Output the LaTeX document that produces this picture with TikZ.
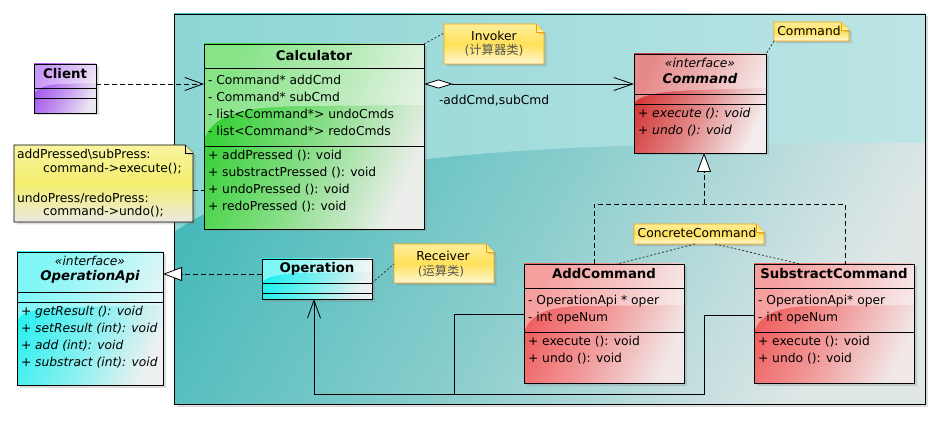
\documentclass[tikz,border=0pt]{standalone}
\usepackage{fontspec}
\setmainfont{DejaVu Sans}
\newfontfamily\cjk{Noto Sans CJK SC}
\usetikzlibrary{arrows.meta,shadows,calc}
\definecolor{pkgA}{HTML}{8DD5D5}
\definecolor{pkgB}{HTML}{BEE5E5}
\definecolor{pkgC}{HTML}{46B9B9}
\definecolor{pkgD}{HTML}{DEE6E6}
\definecolor{caL}{HTML}{30D030}
\definecolor{caR}{HTML}{ECEEEC}
\definecolor{clL}{HTML}{A050F0}
\definecolor{clR}{HTML}{ECE6F0}
\definecolor{cmL}{HTML}{D43434}
\definecolor{cmR}{HTML}{F4ECEC}
\definecolor{ccL}{HTML}{F05A5A}
\definecolor{ccR}{HTML}{F2E8E8}
\definecolor{opL}{HTML}{22F0F0}
\definecolor{opR}{HTML}{ECF0F0}
\definecolor{nO}{HTML}{F2A200}
\definecolor{nY1}{HTML}{FFEE9C}
\definecolor{nY2}{HTML}{FFE15A}
\definecolor{nY3}{HTML}{FFF7D4}
\definecolor{lY1}{HTML}{F9F4A0}
\definecolor{lY2}{HTML}{F4EE6E}
\definecolor{lY3}{HTML}{EAEAE2}
\definecolor{cjkgray}{HTML}{555555}
\newcommand\mynote[6]{%
  \path[#6] (#2,#3) -- (#4-8,#3) -- (#4,#3+8) -- (#4,#5) -- (#2,#5) -- cycle;
  \draw[#6,fill=none] (#4-8,#3) -- (#4-8,#3+8) -- (#4,#3+8);
  \node[anchor=north west,minimum width={(#4-#2)*1pt},minimum height={(#5-#3)*1pt}] (#1) at (#2,#3) {};}
\begin{document}
\begin{tikzpicture}[x=1pt,y=-1pt,
  every node/.style={inner sep=0pt,outer sep=0pt},
  tx/.style={font=\fontsize{12.3}{14}\selectfont,anchor=west},
  ti/.style={font=\fontsize{12.3}{14}\selectfont\itshape,anchor=west},
  tt/.style={font=\fontsize{13.3}{15}\selectfont\bfseries},
  tti/.style={font=\fontsize{13.3}{15}\selectfont\bfseries\itshape},
  st/.style={font=\fontsize{12.3}{14}\selectfont\itshape},
  nt/.style={font=\fontsize{12.3}{14}\selectfont},
  shd/.style={drop shadow={opacity=0.28,shadow xshift=2.5pt,shadow yshift=-2.5pt}},
  cls/.style={anchor=north west,shd},
  grad/.style 2 args={top color=#1,bottom color=#2,middle color=#1!55!#2,shading angle=65},
  gloss/.style={fill=white,opacity=0.42},
  ln/.style={line width=0.9pt},
  conn/.style={line width=0.8pt},
  dep/.style={conn,dash pattern=on 5pt off 3pt},
  dot/.style={line width=0.8pt,dash pattern=on 2pt off 2pt,black!80},
  barb/.style={-{Straight Barb[length=18pt,width=13pt]}},
  tri/.style={-{Triangle[fill=white,length=19pt,width=14pt]}},
  onote/.style={draw=nO,line width=0.9pt,top color=nY1,bottom color=nY3,middle color=nY2,shd},
  lnote/.style={draw=black,line width=0.9pt,top color=lY1,bottom color=lY3,middle color=lY2,shd}
]
\useasboundingbox (0,0) rectangle (939,430);

% package background
\node[cls,minimum width=751pt,minimum height=390pt,top color=pkgC,bottom color=pkgD,middle color=pkgC!55!pkgD,shading angle=60] (pkg) at (174,14) {};
\shade[left color=pkgA,right color=pkgB] (174,14) -- (925,14) -- (925,143) .. controls (560,141) and (290,150) .. (174,232) -- cycle;
\draw[ln] (pkg.north west) rectangle (pkg.south east);

% notes
\mynote{lnote}{14}{145}{193}{222}{lnote}
\node[tx] (ln1) at (17,154) {addPressed\textbackslash subPress:};
\node[tx] (ln2) at (43,169) {command->execute();};
\node[tx] (ln3) at (17,198) {undoPress/redoPress:};
\node[tx] (ln4) at (43,212) {command->undo();};

\mynote{inv}{444}{24}{544}{64}{onote}
\node[nt] (inv1) at (494,36) {Invoker};
\node[nt,text=cjkgray] (inv2) at (494,50) {(\cjk 计算器类\normalfont)};

\mynote{cmdn}{774}{22}{849}{41}{onote}
\node[nt] (cmdn1) at (809,31) {Command};

\mynote{ccn}{634}{224}{764}{244}{onote}
\node[nt] (ccn1) at (697,233) {ConcreteCommand};

\mynote{rcv}{394}{244}{494}{283}{onote}
\node[nt] (rcv1) at (443,256) {Receiver};
\node[nt,text=cjkgray] (rcv2) at (441,271) {(\cjk 运算类\normalfont)};

% Client
\node[cls,minimum width=62pt,minimum height=49pt,grad={clL}{clR}] (client) at (34,64) {};
\fill[gloss] (34,64) -- (96,64) -- (96,83) -- (60,84) .. controls (45,85) and (37,88) .. (34,94) -- cycle;
\draw[ln] (client.north west) rectangle (client.south east);
\draw[ln] (34,88) -- (96,88) (34,98) -- (96,98);
\node[tt] (clientT) at (65,74) {Client};

% Calculator
\node[cls,minimum width=220pt,minimum height=185pt,grad={caL}{caR}] (calc) at (204,44) {};
\fill[gloss] (204,44) -- (424,44) -- (424,105) -- (300,106) .. controls (240,107) and (212,115) .. (204,140) -- cycle;
\draw[ln] (calc.north west) rectangle (calc.south east);
\draw[ln] (204,68) -- (424,68) (204,146) -- (424,146);
\node[tt] (calcT) at (314,56) {Calculator};
\node[tx] (ca1) at (208,80) {- Command* addCmd};
\node[tx] (ca2) at (208,97) {- Command* subCmd};
\node[tx] (ca3) at (208,114) {- list<Command*> undoCmds};
\node[tx] (ca4) at (208,131) {- list<Command*> redoCmds};
\node[tx] (co1) at (208,156) {+ addPressed (): void};
\node[tx] (co2) at (208,173) {+ substractPressed (): void};
\node[tx] (co3) at (208,190) {+ undoPressed (): void};
\node[tx] (co4) at (208,207) {+ redoPressed (): void};

% Command interface
\node[cls,minimum width=132pt,minimum height=99pt,grad={cmL}{cmR}] (cmd) at (634,54) {};
\fill[gloss] (634,54) -- (766,54) -- (766,88) -- (700,90) .. controls (660,91) and (640,95) .. (634,103) -- cycle;
\draw[ln] (cmd.north west) rectangle (cmd.south east);
\draw[ln] (634,94) -- (766,94) (634,104) -- (766,104);
\node[st] (cmdS) at (700,63) {«interface»};
\node[tti] (cmdT) at (700,79) {Command};
\node[ti] (cm1) at (638,114) {+ execute (): void};
\node[ti] (cm2) at (638,131) {+ undo (): void};

% AddCommand
\node[cls,minimum width=160pt,minimum height=119pt,grad={ccL}{ccR}] (add) at (524,264) {};
\fill[gloss] (524,264) -- (684,264) -- (684,305) -- (580,306) .. controls (545,307) and (530,315) .. (524,332) -- cycle;
\draw[ln] (add.north west) rectangle (add.south east);
\draw[ln] (524,288) -- (684,288) (524,332) -- (684,332);
\node[tt] (addT) at (604,274) {AddCommand};
\node[tx] (ad1) at (528,301) {- OperationApi * oper};
\node[tx] (ad2) at (528,318) {- int opeNum};
\node[tx] (ad3) at (528,342) {+ execute (): void};
\node[tx] (ad4) at (528,359) {+ undo (): void};

% SubstractCommand
\node[cls,minimum width=160pt,minimum height=119pt,grad={ccL}{ccR}] (sub) at (754,264) {};
\fill[gloss] (754,264) -- (914,264) -- (914,305) -- (810,306) .. controls (775,307) and (760,315) .. (754,332) -- cycle;
\draw[ln] (sub.north west) rectangle (sub.south east);
\draw[ln] (754,288) -- (914,288) (754,332) -- (914,332);
\node[tt] (subT) at (834,274) {SubstractCommand};
\node[tx] (sb1) at (758,301) {- OperationApi* oper};
\node[tx] (sb2) at (758,318) {- int opeNum};
\node[tx] (sb3) at (758,342) {+ execute (): void};
\node[tx] (sb4) at (758,359) {+ undo (): void};

% Operation
\node[cls,minimum width=110pt,minimum height=40pt,grad={opL}{opR}] (op) at (262,259) {};
\fill[gloss] (262,259) -- (372,259) -- (372,272) -- (300,273) .. controls (280,274) and (268,276) .. (262,282) -- cycle;
\draw[ln] (op.north west) rectangle (op.south east);
\draw[ln] (262,283) -- (372,283) (262,293) -- (372,293);
\node[tt] (opT) at (317,269) {Operation};

% OperationApi
\node[cls,minimum width=146pt,minimum height=133pt,grad={opL}{opR}] (api) at (17,252) {};
\fill[gloss] (17,252) -- (163,252) -- (163,305) -- (70,307) .. controls (35,308) and (22,312) .. (17,320) -- cycle;
\draw[ln] (api.north west) rectangle (api.south east);
\draw[ln] (17,292) -- (163,292) (17,302) -- (163,302);
\node[st] (apiS) at (90,261) {«interface»};
\node[tti] (apiT) at (90,277) {OperationApi};
\node[ti] (ap1) at (21,312) {+ getResult (): void};
\node[ti] (ap2) at (21,329) {+ setResult (int): void};
\node[ti] (ap3) at (21,346) {+ add (int): void};
\node[ti] (ap4) at (21,363) {+ substract (int): void};

% connectors
\draw[dep,barb] (client.east |- 0,84) -- (calc.west |- 0,84);
\draw[conn,{Diamond[fill=white,length=29pt,width=9pt]}-{Straight Barb[length=19pt,width=13pt]}] (calc.east |- 0,84) -- (cmd.west |- 0,84);
\node[tx] (lbl) at (439,101) {-addCmd,subCmd};

\coordinate (rj) at (704,204);
\draw[dep,tri] (rj) -- (cmd.south -| rj);
\draw[dep] (add.north -| 594,0) |- (rj) -| (sub.north -| 845,0);

\draw[dep,tri] (op.west |- 0,274) -- (api.east |- 0,274);

\coordinate (j1) at (454,394);
\draw[conn,barb] (add.west |- 0,314) -| (j1) -| (op.south -| 314,0);
\draw[conn] (sub.west |- 0,315) -| (704,394) -- (j1);

\draw[dep] (lnote.east |- 0,190) -- (calc.west |- 0,190);
\draw[dot] (calc.north east) -- (inv.west |- 0,33);
\draw[dot] (cmdn.south west) -- (cmd.north east);
\draw[dot] (ccn.south -| 695,0) -- (add.north -| 617,0);
\draw[dot] (ccn.south -| 715,0) -- (sub.north -| 800,0);
\draw[dot] (op.east |- 0,283) -- (rcv.west |- 0,264);
\end{tikzpicture}
\end{document}
